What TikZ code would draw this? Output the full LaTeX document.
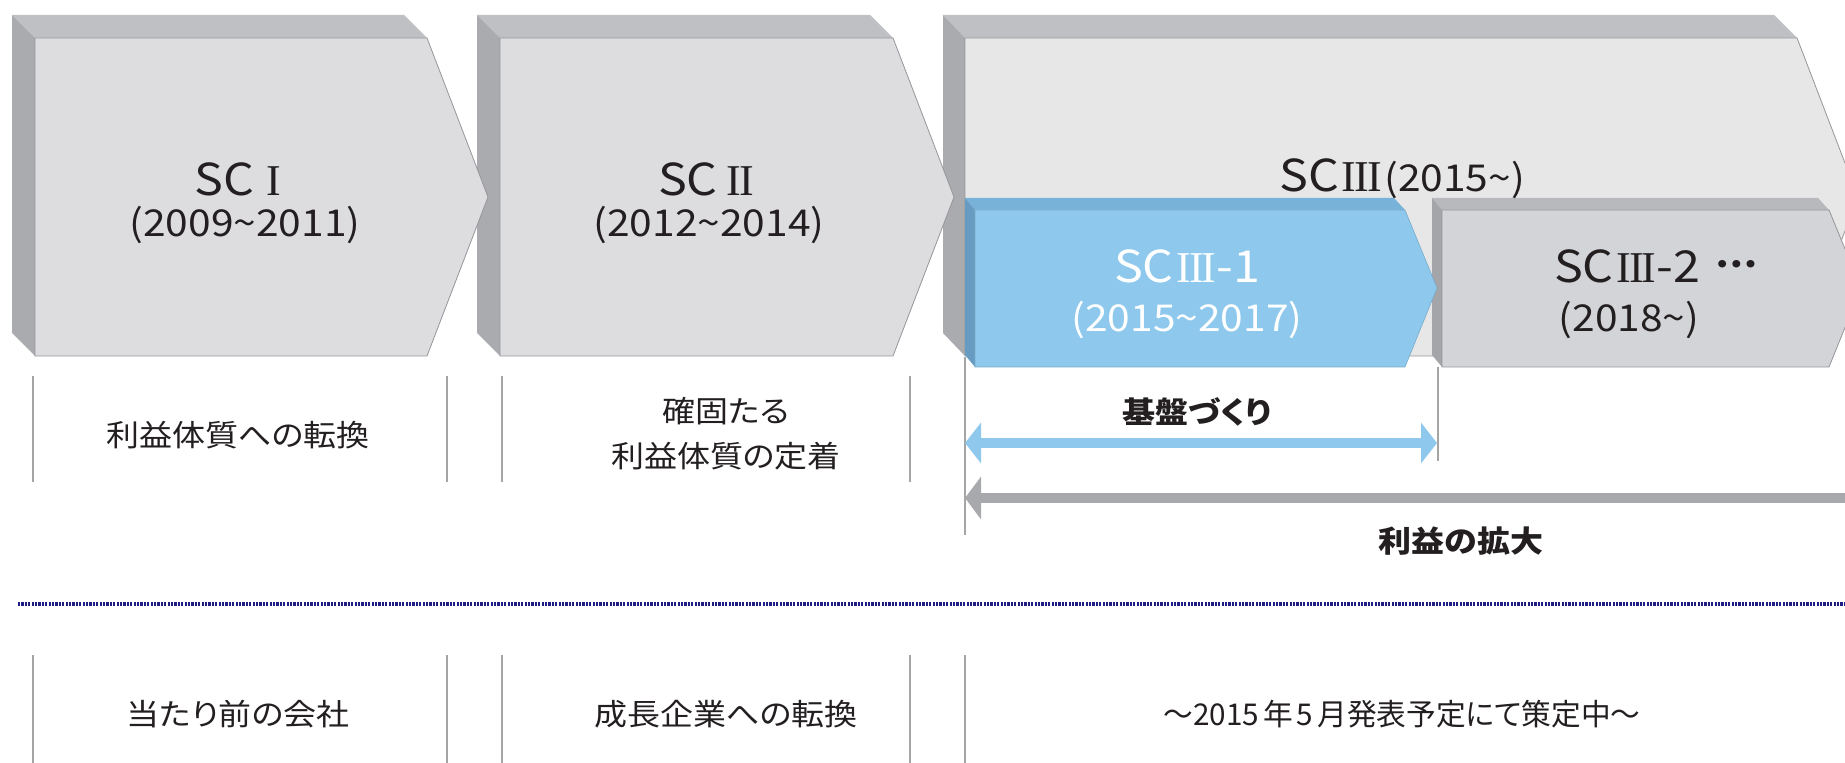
\documentclass[tikz,border=0pt]{standalone}
\usepackage{fontspec}
\setmainfont{Noto Sans CJK JP}[FakeStretch=1.1,RawFeature={+palt}]
\newfontfamily\romanfont{Liberation Serif}
\newcommand\numI{\hspace{0.28em}{\romanfont I}}
\newcommand\numII{\hspace{0.2em}{\romanfont I\kern-0.045em I}}
\newcommand\numIII{\hspace{0.06em}{\romanfont I\kern-0.045em I\kern-0.045em I}}
\usetikzlibrary{arrows.meta}
\definecolor{facegray}{RGB}{221,221,224}
\definecolor{topgray}{RGB}{191,192,196}
\definecolor{sidegray}{RGB}{170,171,175}
\definecolor{bigface}{RGB}{231,231,232}
\definecolor{blueface}{RGB}{142,201,237}
\definecolor{bluetop}{RGB}{120,178,216}
\definecolor{blueside}{RGB}{104,155,194}
\definecolor{sctwoface}{RGB}{211,212,215}
\definecolor{sctwotop}{RGB}{184,185,189}
\definecolor{sctwoside}{RGB}{164,165,169}
\definecolor{edgegray}{RGB}{150,150,154}
\definecolor{linegray}{RGB}{165,165,165}
\definecolor{arrblue}{RGB}{142,201,237}
\definecolor{arrgray}{RGB}{168,169,172}
\definecolor{dotnavy}{RGB}{30,30,130}
\definecolor{txt}{RGB}{35,31,32}
\begin{document}
\begin{tikzpicture}[x=0.5pt,y=-0.5pt,
  sepline/.style={draw=linegray,line width=0.6pt},
  frontface/.style={draw=edgegray,line width=0.4pt},
  lblbig/.style={font=\fontsize{22}{26}\selectfont,text=txt,inner sep=0pt},
  lblyr/.style={font=\fontsize{18.5}{22}\selectfont,text=txt,inner sep=0pt},
  jp/.style={font=\fontsize{15}{22.5}\selectfont,text=txt,align=center,inner sep=0pt},
  jpb/.style={font=\fontsize{15}{22.5}\selectfont\bfseries,text=txt,align=center,inner sep=0pt},
  bluearr/.style={draw=arrblue,line width=5pt,{Triangle[width=20pt,length=8pt]}-{Triangle[width=20pt,length=8pt]}},
  grayarr/.style={draw=arrgray,line width=5pt,{Triangle[width=21pt,length=8pt]}-}]
\useasboundingbox (0,0) rectangle (1845,763);
\clip (0,0) rectangle (1845,763);
\fill[white] (0,0) rectangle (1845,763);

% separator lines (upper row)
\foreach \x in {33,447,502,910} \draw[sepline] (\x,376) -- (\x,482);
\draw[sepline] (965,357) -- (965,535);
\draw[sepline] (1438,367) -- (1438,461);
% separator lines (lower row)
\foreach \x in {33,447,502,910,965} \draw[sepline] (\x,655) -- (\x,763);

% dotted divider
\draw[dotnavy,line width=1.6pt,dash pattern=on 1.1pt off 0.6pt] (18,604) -- (1845,604);

% SC III big shape
\fill[topgray] (943,15) -- (1774,15) -- (1797,38) -- (965,38) -- cycle;
\fill[sidegray] (943,15) -- (965,38) -- (965,356) -- (943,333) -- cycle;
\filldraw[fill=bigface,frontface] (965,38) -- (1797,38) -- (1858,197) -- (1797,356) -- (965,356) -- cycle;

% SC III-2
\fill[sctwotop] (1432,198) -- (1818,198) -- (1829,210) -- (1442,210) -- cycle;
\fill[sctwoside] (1432,198) -- (1442,210) -- (1442,367) -- (1432,355) -- cycle;
\filldraw[fill=sctwoface,frontface] (1442,210) -- (1829,210) -- (1861,288) -- (1829,367) -- (1442,367) -- cycle;

% SC III-1 (blue)
\fill[bluetop] (965,198) -- (1394,198) -- (1405,210) -- (975,210) -- cycle;
\fill[blueside] (965,198) -- (975,210) -- (975,367) -- (965,355) -- cycle;
\filldraw[fill=blueface,draw=blueface!85!black,line width=0.3pt] (975,210) -- (1405,210) -- (1437,288) -- (1405,367) -- (975,367) -- cycle;

% SC II
\fill[topgray] (477,15) -- (870,15) -- (893,38) -- (500,38) -- cycle;
\fill[sidegray] (477,15) -- (500,38) -- (500,356) -- (477,333) -- cycle;
\filldraw[fill=facegray,frontface] (500,38) -- (893,38) -- (954,197) -- (893,356) -- (500,356) -- cycle;

% SC I
\fill[topgray] (12,15) -- (404,15) -- (427,38) -- (35,38) -- cycle;
\fill[sidegray] (12,15) -- (35,38) -- (35,356) -- (12,333) -- cycle;
\filldraw[fill=facegray,frontface] (35,38) -- (427,38) -- (488,197) -- (427,356) -- (35,356) -- cycle;

% labels in shapes
\node[lblbig] (t1) at (238,179) {SC\numI};
\node[lblyr] (y1) at (245,225) {(2009\textasciitilde 2011)};
\node[lblbig] (t2) at (706,179) {SC\numII};
\node[lblyr] (y2) at (709,225) {(2012\textasciitilde 2014)};
\node[lblbig,anchor=base east] (t3) at (1382,192) {SC\numIII};
\node[lblyr,anchor=base west] (y3) at (1384,192) {(2015\textasciitilde)};
\node[lblbig,text=white] (t31) at (1187,266) {SC\numIII-1};
\node[lblyr,text=white] (y31) at (1187,320) {(2015\textasciitilde 2017)};
\node[lblbig] (t32) at (1627,266) {SC\numIII-2};
\node[font=\fontsize{17}{20}\selectfont\bfseries,text=txt,inner sep=0pt] (dots) at (1736,264) {⋯};
\node[lblyr] (y32) at (1629,320) {(2018\textasciitilde)};

% arrows
\coordinate (ba) at (965,443);
\coordinate (bb) at (1437,443);
\coordinate (ga) at (965,498);
\coordinate (gb) at (1870,498);
\draw[bluearr] (ba) -- (bb);
\draw[grayarr] (ga) -- (gb);
\node[jpb] (kiban) at (1197,412) {基盤づくり};
\node[jpb] (kakudai) at (1461,541) {利益の拡大};

% upper row texts
\node[jp] (u1) at (238,435) {利益体質への転換};
\node[jp] (u2) at (726,434) {確固たる\\利益体質の定着};
% lower row texts
\node[jp] (l1) at (238,714) {当たり前の会社};
\node[jp] (l2) at (726,714) {成長企業への転換};
\node[jp] (l3) at (1402,714) {\scalebox{0.9}[1]{～2015\hspace{0.15em}年\hspace{0.15em}5\hspace{0.15em}月発表予定にて策定中～}};
\end{tikzpicture}
\end{document}
